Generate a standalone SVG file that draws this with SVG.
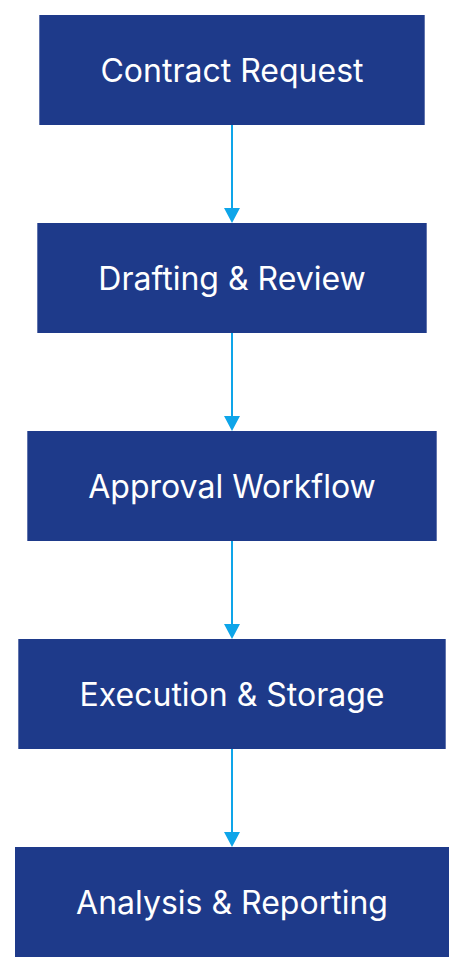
<svg xmlns="http://www.w3.org/2000/svg" width="464" height="972" viewBox="0 0 464 972">
<style>
.node rect{fill:#1e3a8a}
.node text{fill:#ffffff;font-family:Inter,"Noto Sans",sans-serif;font-size:32px;text-anchor:middle;dominant-baseline:central}
.edge{stroke:#0ea5e9;stroke-width:2;fill:none}
.head{fill:#0ea5e9}
</style>
<rect width="464" height="972" fill="#ffffff"/>
<g id="connectors">
<path class="edge" d="M232,125 V208"/>
<path class="head" d="M224,208 L240,208 L232,223 Z"/>
<path class="edge" d="M232,333 V416"/>
<path class="head" d="M224,416 L240,416 L232,431 Z"/>
<path class="edge" d="M232,541 V624"/>
<path class="head" d="M224,624 L240,624 L232,639 Z"/>
<path class="edge" d="M232,749 V832"/>
<path class="head" d="M224,832 L240,832 L232,847 Z"/>
</g>
<g id="n1" class="node"><rect x="39.3" y="15" width="385.4" height="110"/><text x="232" y="70">Contract Request</text></g>
<g id="n2" class="node"><rect x="37.3" y="223" width="389.4" height="110"/><text x="232" y="278">Drafting &amp; Review</text></g>
<g id="n3" class="node"><rect x="27.3" y="431" width="409.4" height="110"/><text x="232" y="486">Approval Workflow</text></g>
<g id="n4" class="node"><rect x="18.3" y="639" width="427.4" height="110"/><text x="232" y="694">Execution &amp; Storage</text></g>
<g id="n5" class="node"><rect x="15" y="847" width="434" height="110"/><text x="232" y="902">Analysis &amp; Reporting</text></g>
</svg>
